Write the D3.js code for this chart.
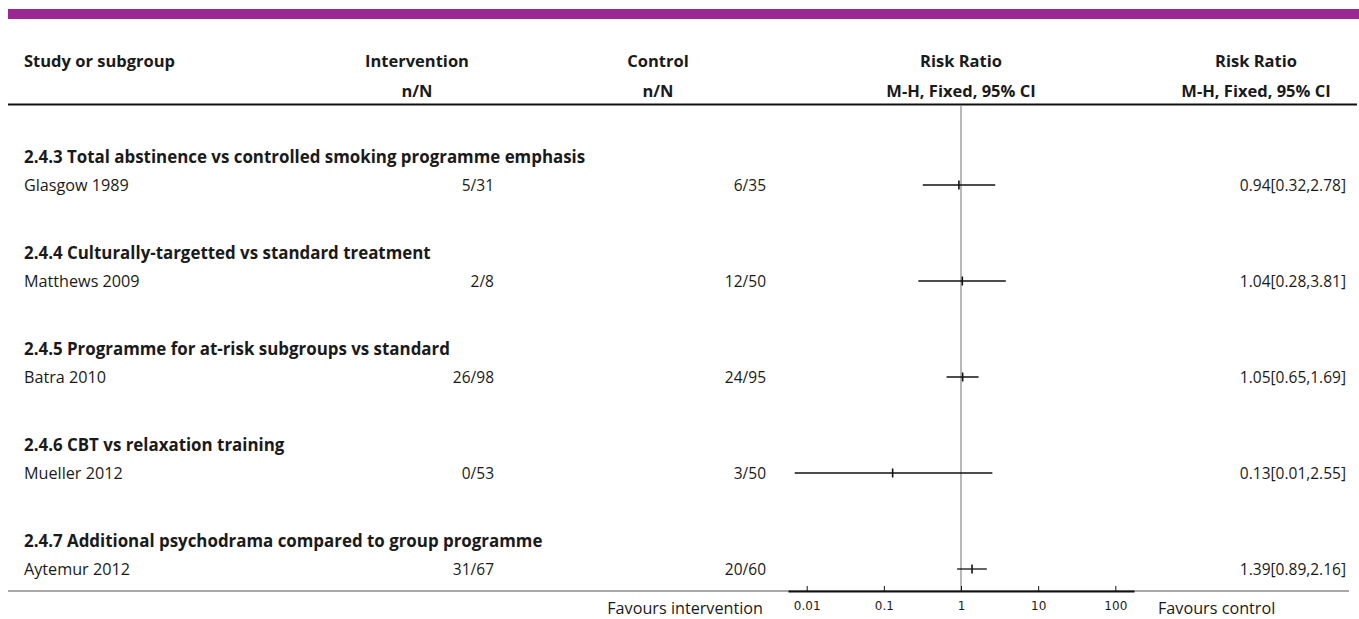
<!DOCTYPE html>
<html>
<head>
<meta charset="utf-8">
<script src="https://cdn.jsdelivr.net/npm/d3@7"></script>
<style>
  html, body { margin: 0; padding: 0; background: #fff; }
  svg { display: block; }
  text { font-family: "Open Sans", "Noto Sans", sans-serif; fill: #1a1a1a; }
  .bold { font-weight: 700; }
  .tick text { font-family: "DejaVu Sans", sans-serif; }
</style>
</head>
<body>
<svg id="chart" width="1359" height="619"></svg>
<script>
// Forest plot: risk ratios by subgroup
const subgroups = [
  "2.4.3 Total abstinence vs controlled smoking programme emphasis",
  "2.4.4 Culturally-targetted vs standard treatment",
  "2.4.5 Programme for at-risk subgroups vs standard",
  "2.4.6 CBT vs relaxation training",
  "2.4.7 Additional psychodrama compared to group programme"
];
const studies = ["Glasgow 1989", "Matthews 2009", "Batra 2010", "Mueller 2012", "Aytemur 2012"];
const interventionEvents = [5, 2, 26, 0, 31];
const interventionTotals = [31, 8, 98, 53, 67];
const controlEvents = [6, 12, 24, 3, 20];
const controlTotals = [35, 50, 95, 50, 60];
const riskRatio = [0.94, 1.04, 1.05, 0.13, 1.39];
const ciLower = [0.32, 0.28, 0.65, 0.007, 0.89];
const ciUpper = [2.78, 3.81, 1.69, 2.55, 2.16];
const axisTicks = [0.01, 0.1, 1, 10, 100];

const svg = d3.select("#chart");
const fmt = d3.format(".2f");
const FS_TEXT = 16.2;   // study names, footer labels
const FS_NUM = 15.5;    // numeric columns
const FS_HEAD = 16.5;   // column headers
const FS_GROUP = 16.9;  // subgroup titles

// purple banner
svg.append("rect").attr("x", 8).attr("y", 9).attr("width", 1351).attr("height", 10)
  .attr("fill", "#9c2892");

// column headers
function head(x, y, t, anchor) {
  svg.append("text").attr("x", x).attr("y", y).attr("text-anchor", anchor)
    .attr("font-size", FS_HEAD).attr("dominant-baseline", "central").attr("class", "bold").text(t);
}
head(24, 60, "Study or subgroup", "start");
head(417, 60, "Intervention", "middle");
head(417, 90, "n/N", "middle");
head(658, 60, "Control", "middle");
head(658, 90, "n/N", "middle");
head(961, 60, "Risk Ratio", "middle");
head(961, 90, "M-H, Fixed, 95% CI", "middle");
head(1256, 60, "Risk Ratio", "middle");
head(1256, 90, "M-H, Fixed, 95% CI", "middle");

svg.append("line").attr("x1", 8).attr("x2", 1357).attr("y1", 104.5).attr("y2", 104.5)
  .attr("stroke", "#111").attr("stroke-width", 2);

// scales
const x = d3.scaleLog().domain([Math.pow(10, -2.242), Math.pow(10, 2.242)]).range([788, 1134]);
const yStudy = d3.scaleLinear().domain([0, 1]).range([185, 281]);

// line of no effect
svg.append("line").attr("x1", x(1)).attr("x2", x(1)).attr("y1", 105).attr("y2", 591)
  .attr("stroke", "#8a8a8a").attr("stroke-width", 1.2);

// rows
studies.forEach((s, i) => {
  const y = yStudy(i);
  svg.append("text").attr("class", "bold").attr("font-size", FS_GROUP)
    .attr("x", 24).attr("y", y - 29).attr("dominant-baseline", "central").text(subgroups[i]);
  svg.append("text").attr("font-size", FS_TEXT).attr("x", 24).attr("y", y)
    .attr("dominant-baseline", "central").text(s);
  svg.append("text").attr("font-size", FS_NUM).attr("x", 494).attr("y", y)
    .attr("text-anchor", "end").attr("dominant-baseline", "central")
    .text(interventionEvents[i] + "/" + interventionTotals[i]);
  svg.append("text").attr("font-size", FS_NUM).attr("x", 766).attr("y", y)
    .attr("text-anchor", "end").attr("dominant-baseline", "central")
    .text(controlEvents[i] + "/" + controlTotals[i]);
  svg.append("text").attr("font-size", FS_NUM).attr("x", 1346).attr("y", y)
    .attr("text-anchor", "end").attr("dominant-baseline", "central")
    .text(fmt(riskRatio[i]) + "[" + fmt(ciLower[i]) + "," + fmt(ciUpper[i]) + "]");

  // confidence interval and point estimate
  svg.append("line").attr("x1", x(ciLower[i])).attr("x2", x(ciUpper[i]))
    .attr("y1", y).attr("y2", y).attr("stroke", "#111").attr("stroke-width", 1.3);
  svg.append("line").attr("x1", x(riskRatio[i])).attr("x2", x(riskRatio[i]))
    .attr("y1", y - 4.5).attr("y2", y + 4.5).attr("stroke", "#111").attr("stroke-width", 1.6);
});

// bottom rule
svg.append("line").attr("x1", 8).attr("x2", 1349).attr("y1", 591).attr("y2", 591)
  .attr("stroke", "#555").attr("stroke-width", 1.2);

// axis
const axis = d3.axisTop(x).tickValues(axisTicks).tickSize(5).tickSizeOuter(0)
  .tickFormat(d => String(d));
const ag = svg.append("g").attr("transform", "translate(0,591)").call(axis);
ag.select(".domain").attr("stroke", "#111").attr("stroke-width", 2);
ag.selectAll(".tick line").attr("stroke", "#111").attr("stroke-width", 1);
ag.selectAll(".tick text").attr("y", 15).attr("dy", 0).attr("font-size", 12)
  .attr("dominant-baseline", "central").style("fill", "#1a1a1a");

svg.append("text").attr("font-size", FS_TEXT).attr("x", 763).attr("y", 608)
  .attr("text-anchor", "end").attr("dominant-baseline", "central").text("Favours intervention");
svg.append("text").attr("font-size", FS_TEXT).attr("x", 1158).attr("y", 608)
  .attr("dominant-baseline", "central").text("Favours control");
</script>
</body>
</html>
